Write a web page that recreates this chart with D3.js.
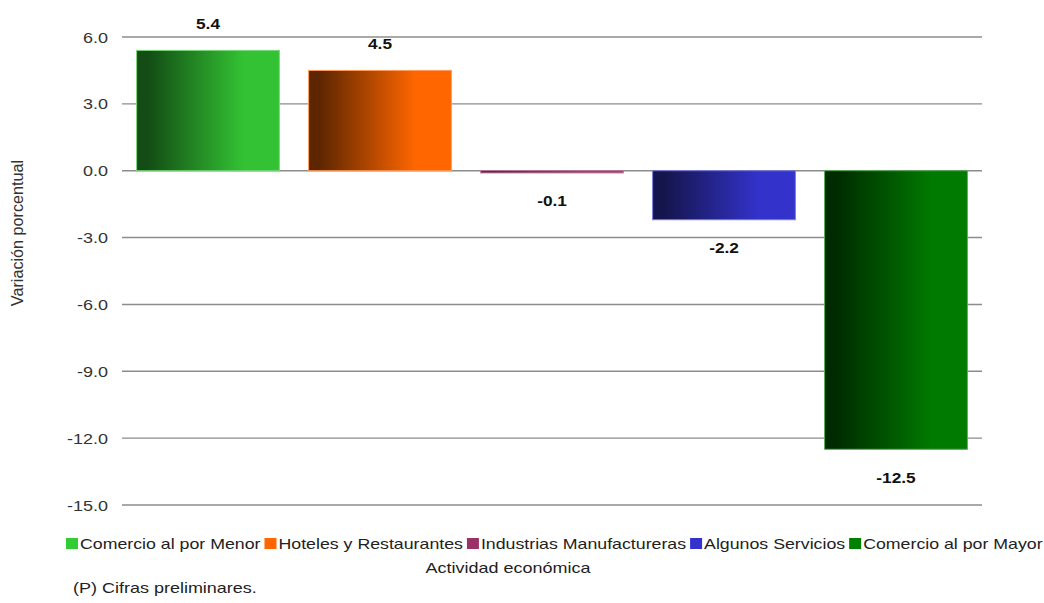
<!DOCTYPE html>
<html>
<head>
<meta charset="utf-8">
<script src="https://cdn.jsdelivr.net/npm/d3@7"></script>
<style>
	body { margin: 0; background: #fff; }
	text { font-family: "Liberation Sans", Arial, sans-serif; fill: #222; }
</style>
</head>
<body>
<script>
(function(){

//chart data
var categories = ["Comercio al por Menor", "Hoteles y Restaurantes", "Industrias Manufactureras", "Algunos Servicios", "Comercio al por Mayor"];
var values = [5.4, 4.5, -0.1, -2.2, -12.5];
var brightColors = ["#33c233", "#ff6600", "#993366", "#3333cc", "#007a00"];
var darkColors = ["#134d15", "#5e2600", "#4a1530", "#15154d", "#002a00"];
var legendColors = ["#33cc33", "#ff6600", "#993366", "#3333cc", "#008000"];
var tickValues = [6, 3, 0, -3, -6, -9, -12, -15];

//frame
var width = 1044,
	height = 603,
	plotLeft = 122,
	plotRight = 982,
	textScale = "scale(1.5,1.2)";

var svg = d3.select("body")
	.append("svg")
	.attr("width", width)
	.attr("height", height);

var defs = svg.append("defs");

//scales
var x = d3.scaleBand()
	.domain(categories)
	.range([plotLeft, plotRight])
	.paddingInner(0.17)
	.paddingOuter(0.085);

var y = d3.scaleLinear()
	.domain([-15, 6])
	.range([505, 37]);

//gridlines
svg.selectAll(".grid")
	.data(tickValues)
	.enter()
	.append("line")
	.attr("class", "grid")
	.attr("x1", plotLeft)
	.attr("x2", plotRight)
	.attr("y1", function(d){ return y(d); })
	.attr("y2", function(d){ return y(d); })
	.attr("stroke", "#8c8c8c")
	.attr("stroke-width", 1.4);

//tick labels
svg.selectAll(".tickLabel")
	.data(tickValues)
	.enter()
	.append("text")
	.attr("class", "tickLabel")
	.attr("transform", function(d){ return "translate(108," + (y(d) + 5.5) + ") " + textScale; })
	.attr("text-anchor", "end")
	.style("font-size", "12px")
	.style("fill", "#333")
	.text(function(d){ return d.toFixed(1); });

//bar gradients
categories.forEach(function(c, i){
	var grad = defs.append("linearGradient")
		.attr("id", "grad" + i)
		.attr("x1", "0%").attr("x2", "100%")
		.attr("y1", "0%").attr("y2", "0%");
	grad.append("stop").attr("offset", "0%").attr("stop-color", darkColors[i]);
	grad.append("stop").attr("offset", "8%").attr("stop-color", darkColors[i]);
	grad.append("stop").attr("offset", "75%").attr("stop-color", brightColors[i]);
	grad.append("stop").attr("offset", "100%").attr("stop-color", brightColors[i]);
});

//bars
svg.selectAll(".bar")
	.data(values)
	.enter()
	.append("rect")
	.attr("class", "bar")
	.attr("x", function(d, i){ return x(categories[i]); })
	.attr("width", x.bandwidth())
	.attr("y", function(d){ return y(Math.max(0, d)); })
	.attr("height", function(d){ return Math.abs(y(d) - y(0)); })
	.attr("fill", function(d, i){ return "url(#grad" + i + ")"; })
	.attr("stroke", function(d, i){ return d3.interpolateRgb(brightColors[i], "#fff")(0.35); })
	.attr("stroke-width", 1);

//value labels
svg.selectAll(".valLabel")
	.data(values)
	.enter()
	.append("text")
	.attr("class", "valLabel")
	.attr("transform", function(d, i){
		var cx = x(categories[i]) + x.bandwidth() / 2;
		var cy = d >= 0 ? y(d) - 26 : y(d) + 29;
		return "translate(" + cx + "," + (cy + 4.5) + ") " + textScale;
	})
	.attr("text-anchor", "middle")
	.style("font-size", "11.5px")
	.style("font-weight", "bold")
	.style("fill", "#111")
	.text(function(d){ return d.toFixed(1); });

//y axis title
svg.append("text")
	.attr("transform", "translate(23,233) scale(1.3,1.35) rotate(-90)")
	.attr("text-anchor", "middle")
	.style("font-size", "12px")
	.style("fill", "#333")
	.text("Variación porcentual");

//legend: measure texts first, then stretch them to fill the row
var legendLeft = 66,
	legendRight = 1043,
	boxW = 12,
	gapIn = 2,
	gapOut = 4;

var legendTexts = categories.map(function(c){
	return svg.append("text")
		.style("font-size", "12px")
		.style("fill", "#222")
		.text(c);
});
var rawTotal = d3.sum(legendTexts, function(t){ return t.node().getComputedTextLength(); });
var room = legendRight - legendLeft - categories.length * (boxW + gapIn) - (categories.length - 1) * gapOut;
var legendSx = room / rawTotal;

var lx = legendLeft;
categories.forEach(function(c, i){
	svg.append("rect")
		.attr("x", lx)
		.attr("y", 538)
		.attr("width", boxW)
		.attr("height", 11)
		.attr("fill", legendColors[i]);
	var t = legendTexts[i];
	t.attr("transform", "translate(" + (lx + boxW + gapIn) + ",549) scale(" + legendSx + ",1.2)");
	lx += boxW + gapIn + t.node().getComputedTextLength() * legendSx + gapOut;
});

//x axis title
svg.append("text")
	.attr("transform", "translate(508,573) " + textScale)
	.attr("text-anchor", "middle")
	.style("font-size", "12px")
	.style("fill", "#222")
	.text("Actividad económica");

//note
svg.append("text")
	.attr("transform", "translate(73,593) " + textScale)
	.style("font-size", "12px")
	.style("fill", "#222")
	.text("(P) Cifras preliminares.");

})();
</script>
</body>
</html>
